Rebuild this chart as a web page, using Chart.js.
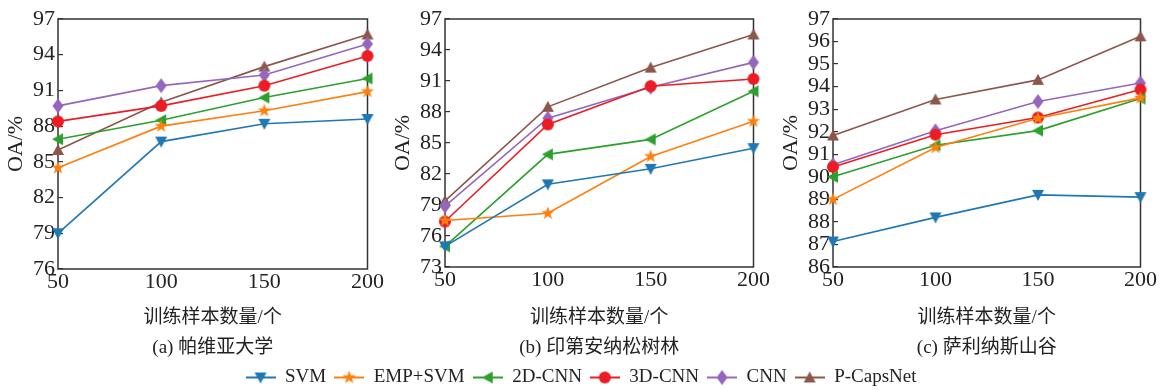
<!DOCTYPE html>
<html>
<head>
<meta charset="utf-8">
<script src="https://cdn.jsdelivr.net/npm/chart.js@4/dist/chart.umd.min.js"></script>
<style>
  html, body { margin: 0; padding: 0; background: #fff; }
  #wrap { position: relative; width: 1162px; height: 390px; overflow: hidden; }
  canvas { position: absolute; }
</style>
</head>
<body>
<div id="wrap">
  <canvas id="chartA" width="386" height="365" style="left:0;top:0"></canvas>
  <canvas id="chartB" width="385" height="365" style="left:387px;top:0"></canvas>
  <canvas id="chartC" width="384" height="365" style="left:775px;top:0"></canvas>
  <canvas id="legend" width="1162" height="80" style="left:0;top:360px"></canvas>
</div>
<script>
// x categories (training samples)
const sampleSizes = ['50', '100', '150', '200'];

// series names
const methods = ['SVM', 'EMP+SVM', '2D-CNN', '3D-CNN', 'CNN', 'P-CapsNet'];

// (a) Pavia University
const paviaSvm    = [79.0, 86.7, 88.2, 88.6];
const paviaEmp    = [84.5, 88.0, 89.3, 90.9];
const pavia2d     = [86.9, 88.5, 90.4, 92.0];
const pavia3d     = [88.4, 89.7, 91.4, 93.9];
const paviaCnn    = [89.7, 91.4, 92.3, 94.9];
const paviaCaps   = [86.0, 90.0, 93.0, 95.7];

// (b) Indian Pines
const indianSvm   = [75.0, 81.0, 82.5, 84.5];
const indianEmp   = [77.5, 78.2, 83.7, 87.1];
const indian2d    = [75.0, 83.9, 85.35, 90.0];
const indian3d    = [77.4, 86.8, 90.5, 91.2];
const indianCnn   = [78.9, 87.4, 90.4, 92.8];
const indianCaps  = [79.4, 88.5, 92.3, 95.5];

// (c) Salinas
const salinasSvm  = [87.13, 88.2, 89.2, 89.1];
const salinasEmp  = [89.0, 91.3, 92.6, 93.5];
const salinas2d   = [90.0, 91.4, 92.05, 93.47];
const salinas3d   = [90.44, 91.87, 92.63, 93.87];
const salinasCnn  = [90.54, 92.04, 93.34, 94.16];
const salinasCaps = [91.83, 93.43, 94.3, 96.23];

// y tick labels
const ticksA = [76, 79, 82, 85, 88, 91, 94, 97];
const ticksB = [73, 76, 79, 82, 85, 88, 91, 94, 97];
const ticksC = [86, 87, 88, 89, 90, 91, 92, 93, 94, 95, 96, 97];

const colors = ['#1f77b4', '#ff7f0e', '#2ca02c', '#ec1c24', '#9467bd', '#8c564b'];
const shapes = ['down', 'star', 'left', 'circle', 'diamond', 'up'];

const serif = '"Liberation Serif", "Times New Roman", serif';
const cjk = '"Liberation Serif", "Noto Sans CJK SC", serif';

function makeMarker(shape, color, withLine) {
  const w = withLine ? 30 : 16, h = 16;
  const c = document.createElement('canvas');
  c.width = w; c.height = h;
  const g = c.getContext('2d');
  const cx = w / 2, cy = h / 2;
  if (withLine) {
    g.strokeStyle = color; g.lineWidth = 2;
    g.beginPath(); g.moveTo(0, cy); g.lineTo(w, cy); g.stroke();
  }
  g.fillStyle = color;
  g.beginPath();
  if (shape === 'down') {
    g.moveTo(cx - 6, cy - 5); g.lineTo(cx + 6, cy - 5); g.lineTo(cx, cy + 6);
  } else if (shape === 'up') {
    g.moveTo(cx - 6, cy + 5); g.lineTo(cx + 6, cy + 5); g.lineTo(cx, cy - 6);
  } else if (shape === 'left') {
    g.moveTo(cx + 5, cy - 6); g.lineTo(cx + 5, cy + 6); g.lineTo(cx - 6, cy);
  } else if (shape === 'circle') {
    g.arc(cx, cy, 6, 0, Math.PI * 2);
  } else if (shape === 'diamond') {
    g.moveTo(cx, cy - 7.5); g.lineTo(cx + 5.5, cy); g.lineTo(cx, cy + 7.5); g.lineTo(cx - 5.5, cy);
  } else if (shape === 'star') {
    for (let i = 0; i < 10; i++) {
      const r = i % 2 ? 2.8 : 7;
      const a = -Math.PI / 2 + i * Math.PI / 5;
      g.lineTo(cx + r * Math.cos(a), cy + r * Math.sin(a));
    }
  }
  g.closePath();
  g.fill();
  return c;
}

const pointMarkers = shapes.map((s, i) => makeMarker(s, colors[i], false));
const legendMarkers = shapes.map((s, i) => makeMarker(s, colors[i], true));

// box around the plot area
const framePlugin = {
  id: 'frame',
  beforeDatasetsDraw(chart) {
    const { ctx, chartArea: a } = chart;
    ctx.save();
    ctx.strokeStyle = '#333';
    ctx.lineWidth = 1.5;
    ctx.strokeRect(a.left, a.top, a.right - a.left, a.bottom - a.top);
    ctx.restore();
  }
};

function makeDatasets(series) {
  return series.map((vals, i) => ({
    label: methods[i],
    data: vals,
    borderColor: colors[i],
    backgroundColor: colors[i],
    borderWidth: 1.6,
    pointStyle: pointMarkers[i],
    pointRadius: 6,
    clip: false
  }));
}

function makePanel(id, series, ticks, caption, top, xHeight) {
  const step = ticks[1] - ticks[0];
  new Chart(document.getElementById(id), {
    type: 'line',
    data: { labels: sampleSizes, datasets: makeDatasets(series) },
    plugins: [framePlugin],
    options: {
      responsive: false,
      animation: false,
      devicePixelRatio: 1,
      layout: { padding: { top: top, right: 18, bottom: 2, left: 0 } },
      plugins: { legend: { display: false }, tooltip: { enabled: false } },
      scales: {
        x: {
          offset: false,
          grid: { display: false, drawTicks: false },
          border: { display: false },
          ticks: { color: '#222', padding: 2, maxRotation: 0, font: { family: serif, size: 22, lineHeight: 1 } },
          title: {
            display: true,
            text: ['训练样本数量/个', caption],
            color: '#222',
            padding: { top: 0, bottom: 0 },
            font: { family: cjk, size: 19, lineHeight: '30px' }
          },
          afterFit: s => { s.height = xHeight; }
        },
        y: {
          min: ticks[0],
          max: ticks[ticks.length - 1],
          grid: { drawOnChartArea: false, drawTicks: true, tickLength: -5, color: '#333', lineWidth: 1.2 },
          border: { display: false },
          ticks: { stepSize: step, autoSkip: false, color: '#222', padding: 8, font: { family: serif, size: 22, lineHeight: 1 } },
          title: {
            display: true,
            text: 'OA/%',
            color: '#222',
            padding: { top: 3, bottom: 0 },
            font: { family: serif, size: 22 }
          },
          afterFit: s => { s.width = 58; }
        }
      }
    }
  });
}

makePanel('chartA', [paviaSvm, paviaEmp, pavia2d, pavia3d, paviaCnn, paviaCaps], ticksA, '(a) 帕维亚大学', 12, 94);
makePanel('chartB', [indianSvm, indianEmp, indian2d, indian3d, indianCnn, indianCaps], ticksB, '(b) 印第安纳松树林', 13, 96);
makePanel('chartC', [salinasSvm, salinasEmp, salinas2d, salinas3d, salinasCnn, salinasCaps], ticksC, '(c) 萨利纳斯山谷', 13, 96);

// shared legend
new Chart(document.getElementById('legend'), {
  type: 'line',
  data: {
    labels: [],
    datasets: methods.map((m, i) => ({ label: m, data: [], borderColor: colors[i], backgroundColor: colors[i] }))
  },
  options: {
    responsive: false,
    animation: false,
    devicePixelRatio: 1,
    layout: { padding: 0 },
    scales: { x: { display: false }, y: { display: false } },
    plugins: {
      tooltip: { enabled: false },
      legend: {
        display: true,
        position: 'top',
        labels: {
          usePointStyle: true,
          pointStyleWidth: 30,
          color: '#222',
          padding: 8,
          font: { family: serif, size: 19 },
          generateLabels: chart => chart.data.datasets.map((d, i) => ({
            text: d.label,
            pointStyle: legendMarkers[i],
            fillStyle: d.borderColor,
            strokeStyle: d.borderColor,
            fontColor: '#222',
            lineWidth: 0,
            hidden: false,
            datasetIndex: i
          }))
        }
      }
    }
  }
});
</script>
</body>
</html>
